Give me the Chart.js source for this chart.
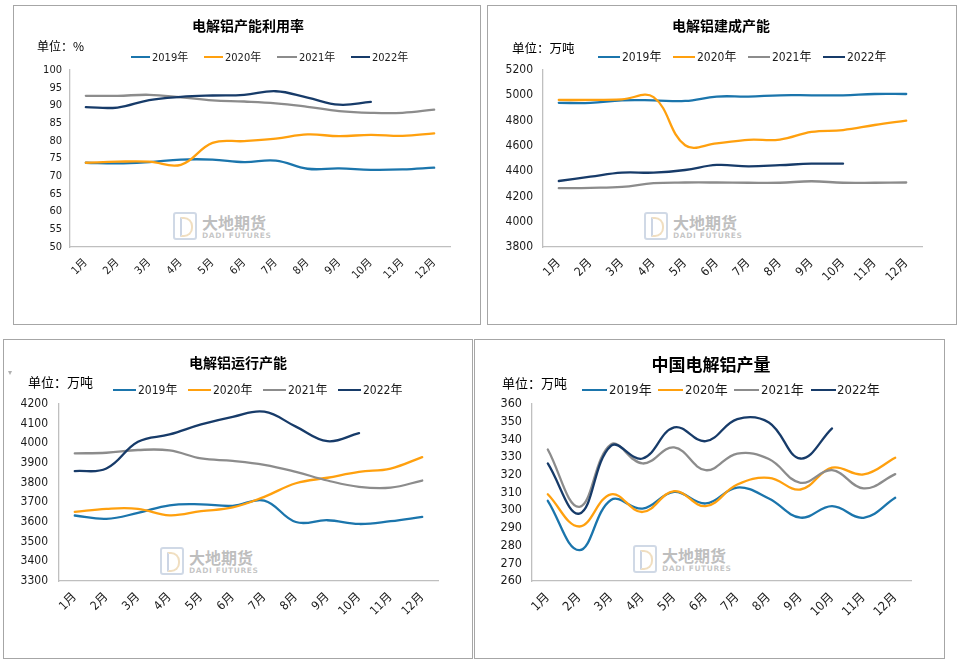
<!DOCTYPE html>
<html>
<head>
<meta charset="utf-8">
<script src="https://cdn.jsdelivr.net/npm/chart.js@4.4.1/dist/chart.umd.min.js"></script>
<style>
  html, body { margin: 0; padding: 0; background: #fff; }
  body { width: 961px; height: 664px; position: relative; overflow: hidden; font-family: 'Noto Sans CJK SC', sans-serif; }
  .panel { position: absolute; border: 1px solid #A6A6A6; box-sizing: border-box; background: #fff; }
  canvas { position: absolute; }
  .txt { position: absolute; white-space: nowrap; color: #000; }
  .leg { position: absolute; height: 2.6px; }
  .wm-icon { position: absolute; box-sizing: border-box; border: 2px solid rgba(170,185,210,0.55); border-radius: 3px; }
  .wm-icon::after { content: ''; position: absolute; left: 5px; top: 3px; width: 9px; height: 16px; border: 2px solid rgba(230,200,150,0.6); border-left-color: rgba(170,185,210,0.6); border-radius: 0 9px 9px 0; }
</style>
</head>
<body>
<script>
// ---------------- DATA ----------------
const months = ['1月','2月','3月','4月','5月','6月','7月','8月','9月','10月','11月','12月'];
const seriesNames = ['2019年','2020年','2021年','2022年'];
const seriesColors = ['#1B75AC','#FFA00E','#8C8C8C','#173B69'];

// 电解铝产能利用率 (%)
const util2019 = [73.8,73.6,74.0,74.7,74.7,74.0,74.4,72.1,72.2,71.8,71.9,72.4];
const util2020 = [73.8,74.1,74.1,73.2,79.4,79.9,80.6,81.8,81.3,81.7,81.4,82.1];
const util2021 = [92.7,92.7,93.0,92.3,91.4,91.1,90.6,89.6,88.4,87.9,87.9,88.8];
const util2022 = [89.5,89.4,91.5,92.4,92.8,93.0,94.0,92.2,90.2,91.0];
const utilTicks = [50,55,60,65,70,75,80,85,90,95,100];

// 电解铝建成产能 (万吨)
const built2019 = [4940,4940,4960,4960,4955,4990,4990,5000,5000,5000,5010,5010];
const built2020 = [4963,4963,4968,4985,4605,4620,4648,4650,4710,4725,4765,4800];
const built2021 = [4265,4268,4275,4305,4310,4310,4308,4308,4320,4308,4308,4310];
const built2022 = [4322,4356,4388,4388,4409,4449,4438,4447,4459,4459];
const builtTicks = [3800,4000,4200,4400,4600,4800,5000,5200];

// 电解铝运行产能 (万吨)
const run2019 = [3633,3616,3646,3685,3690,3682,3709,3600,3609,3590,3604,3626];
const run2020 = [3651,3667,3667,3634,3655,3674,3728,3797,3825,3855,3872,3930];
const run2021 = [3949,3952,3966,3964,3923,3911,3891,3855,3811,3779,3775,3811];
const run2022 = [3859,3872,4008,4045,4096,4135,4161,4085,4011,4052];
const runTicks = [3300,3400,3500,3600,3700,3800,3900,4000,4100,4200];

// 中国电解铝产量 (万吨)
const out2019 = [305.3,277.4,305.8,300.9,310.4,303.8,312.8,306.6,295.8,302.3,295.7,307.0];
const out2020 = [309.0,290.8,309.0,299.0,310.8,302.3,314.5,318.3,311.7,324.0,320.2,329.6];
const out2021 = [334.3,301.9,337.2,326.4,335.5,322.6,332.0,328.9,315.5,322.6,312.3,320.4];
const out2022 = [326.4,298.1,336.4,329.2,346.8,339.0,351.5,349.6,329.2,346.2];
const outTicks = [260,270,280,290,300,310,320,330,340,350,360];

// ---------------- LAYOUT ----------------
const NARROW = "'Liberation Sans Narrow','DejaVu Sans Condensed','Arial Narrow','Noto Sans CJK SC',sans-serif";
const CJK = "'Noto Sans CJK SC',sans-serif";

const panels = [
  { box:[13,5,468,320], area:[56,64,436,241], ticks:utilTicks, series:[util2019,util2020,util2021,util2022],
    yFont:11, xFont:11, yPad:8, xPad:9,
    title:{text:'电解铝产能利用率', cx:248, cy:25, size:14, weight:700},
    unit:{text:'单位：%', x:37, cy:45, size:12},
    legend:{cy:57, size:11, items:[[131,150,152],[204,223,225],[277,297,299],[351,370,372]]},
    mark:[173,212] },
  { box:[487,5,470,320], area:[55,64,434,241], ticks:builtTicks, series:[built2019,built2020,built2021,built2022],
    yFont:12, xFont:12, yPad:10, xPad:9,
    title:{text:'电解铝建成产能', cx:721, cy:25, size:14, weight:700},
    unit:{text:'单位：万吨', x:512, cy:48, size:12.5},
    legend:{cy:57, size:12, items:[[598,620,622],[673,695,697],[748,770,772],[823,845,847]]},
    mark:[644,212] },
  { box:[3,339,470,320], area:[55,64,434,241], ticks:runTicks, series:[run2019,run2020,run2021,run2022],
    yFont:12, xFont:12, yPad:11, xPad:9,
    title:{text:'电解铝运行产能', cx:238, cy:362, size:14, weight:700},
    unit:{text:'单位：万吨', x:28, cy:382, size:13},
    legend:{cy:390, size:12, items:[[113,136,138],[188,211,213],[263,286,288],[338,361,363]]},
    mark:[160,547] },
  { box:[474,339,471,320], area:[57,64,436,241], ticks:outTicks, series:[out2019,out2020,out2021,out2022],
    yFont:12.5, xFont:12.5, yPad:10, xPad:9,
    title:{text:'中国电解铝产量', cx:711, cy:364, size:17, weight:700},
    unit:{text:'单位：万吨', x:502, cy:383, size:13},
    legend:{cy:390, size:13, items:[[582,607,609],[658,683,685],[734,759,761],[811,836,837]]},
    mark:[633,545] }
];

function addText(text, x, cy, size, opts) {
  opts = opts || {};
  const d = document.createElement('div');
  d.className = 'txt';
  d.textContent = text;
  const h = Math.round(size * 1.4);
  d.style.fontSize = size + 'px';
  d.style.lineHeight = h + 'px';
  d.style.height = h + 'px';
  d.style.top = (cy - h / 2) + 'px';
  d.style.fontFamily = opts.family || CJK;
  if (opts.weight) d.style.fontWeight = opts.weight;
  if (opts.color) d.style.color = opts.color;
  if (opts.spacing) d.style.letterSpacing = opts.spacing;
  document.body.appendChild(d);
  if (opts.center) {
    d.style.left = (x - d.offsetWidth / 2) + 'px';
  } else {
    d.style.left = x + 'px';
  }
  return d;
}

function addWatermark(x, y) {
  const ic = document.createElement('div');
  ic.className = 'wm-icon';
  ic.style.left = x + 'px'; ic.style.top = y + 'px';
  ic.style.width = '24px'; ic.style.height = '28px';
  document.body.appendChild(ic);
  addText('大地期货', x + 29, y + 10, 16, {weight:700, color:'rgba(125,125,125,0.5)'});
  addText('DADI FUTURES', x + 29, y + 23.5, 7.5, {weight:700, color:'rgba(125,125,125,0.45)', family:"'DejaVu Sans',sans-serif", spacing:'0.6px'});
}

panels.forEach((p, idx) => {
  const [bx, by, bw, bh] = p.box;
  const box = document.createElement('div');
  box.className = 'panel';
  box.style.left = bx + 'px'; box.style.top = by + 'px';
  box.style.width = bw + 'px'; box.style.height = bh + 'px';
  document.body.appendChild(box);

  addWatermark(p.mark[0], p.mark[1]);

  const cw = bw - 2, ch = bh - 2;
  const cv = document.createElement('canvas');
  cv.width = cw; cv.height = ch;
  cv.style.left = (bx + 1) + 'px'; cv.style.top = (by + 1) + 'px';
  cv.style.width = cw + 'px'; cv.style.height = ch + 'px';
  document.body.appendChild(cv);

  const [al, at, ar, ab] = p.area;
  const yW = 45, xH = 50;
  const t = p.ticks;

  new Chart(cv.getContext('2d'), {
    type: 'line',
    data: {
      labels: months,
      datasets: p.series.map((s, i) => ({
        label: seriesNames[i],
        data: s,
        borderColor: seriesColors[i],
        backgroundColor: seriesColors[i],
        borderWidth: 2.3,
        pointRadius: 0,
        pointHoverRadius: 0,
        tension: 0.4,
        fill: false,
        borderCapStyle: 'round',
        borderJoinStyle: 'round',
        order: 3 - i
      }))
    },
    options: {
      responsive: false,
      animation: false,
      devicePixelRatio: 1,
      events: [],
      layout: { padding: { left: al - yW, right: cw - ar, top: at, bottom: ch - ab - xH } },
      plugins: { legend: { display: false }, title: { display: false }, tooltip: { enabled: false } },
      scales: {
        x: {
          type: 'category',
          offset: true,
          grid: { display: false, drawTicks: false },
          border: { display: true, color: '#BFBFBF', width: 1.3 },
          ticks: { autoSkip: false, minRotation: 45, maxRotation: 45, padding: p.xPad, color: '#1a1a1a',
                   font: { family: NARROW, size: p.xFont } },
          afterFit: s => { s.height = xH; }
        },
        y: {
          min: t[0], max: t[t.length - 1],
          grid: { display: false, drawTicks: false },
          border: { display: true, color: '#BFBFBF', width: 1.3 },
          ticks: { stepSize: t[1] - t[0], autoSkip: false, padding: p.yPad, color: '#1a1a1a',
                   font: { family: NARROW, size: p.yFont },
                   callback: v => String(v) },
          afterFit: s => { s.width = yW; }
        }
      }
    }
  });

  addText(p.title.text, p.title.cx, p.title.cy, p.title.size, {weight: p.title.weight, center: true});
  addText(p.unit.text, p.unit.x, p.unit.cy, p.unit.size);
  p.legend.items.forEach((it, i) => {
    const ln = document.createElement('div');
    ln.className = 'leg';
    ln.style.left = it[0] + 'px';
    ln.style.width = (it[1] - it[0]) + 'px';
    ln.style.top = (p.legend.cy - 1.3) + 'px';
    ln.style.background = seriesColors[i];
    document.body.appendChild(ln);
    addText(seriesNames[i], it[2], p.legend.cy, p.legend.size, {family: NARROW, color: '#1a1a1a'});
  });
});

// small marker at the top-left of the third panel
addText('▾', 8, 372, 8, {color:'#B0B0B0', family:"'DejaVu Sans',sans-serif"});
</script>
</body>
</html>
